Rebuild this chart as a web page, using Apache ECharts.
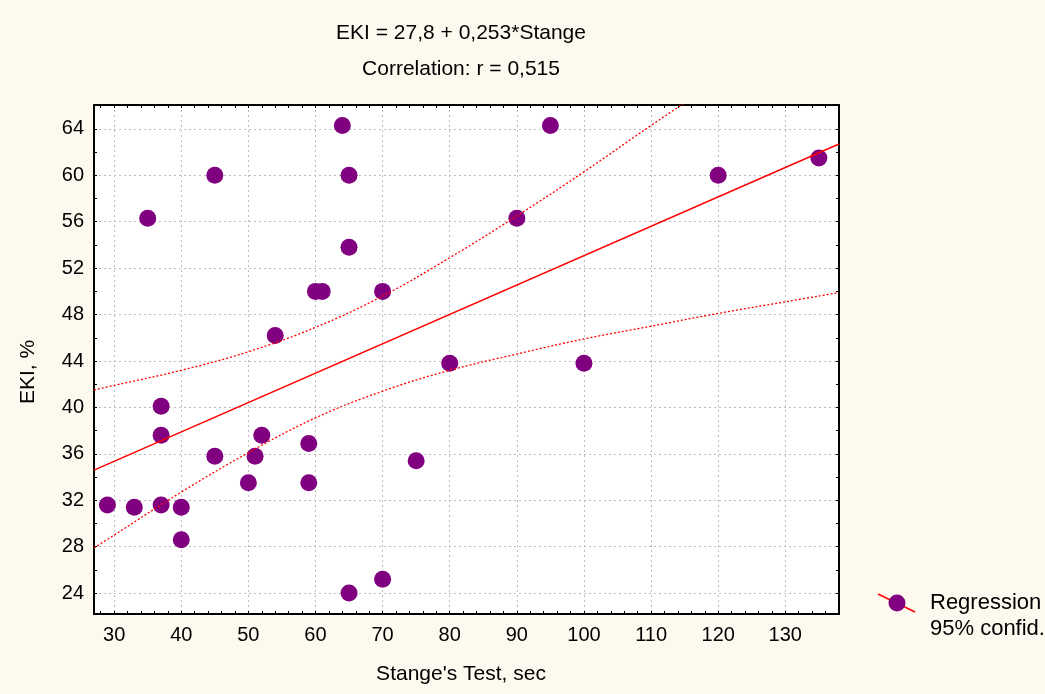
<!DOCTYPE html>
<html>
<head>
<meta charset="utf-8">
<script src="https://cdn.jsdelivr.net/npm/echarts@6/dist/echarts.min.js"></script>
<style>
html, body { margin: 0; padding: 0; background: #fef9ee; }
#chart { width: 1045px; height: 694px; }
</style>
</head>
<body>
<div id="chart"></div>
<script>
// observations: Stange's test (sec) vs EKI (%)
var stange = [29, 33, 35, 37, 37, 37, 40, 40, 45, 45, 50, 51, 52, 54, 59, 59, 60, 61, 64, 65, 65, 65, 70, 70, 75, 80, 90, 95, 100, 120, 135];
var eki = [31.6, 31.4, 56.3, 40.1, 37.6, 31.6, 31.4, 28.6, 60, 35.8, 33.5, 35.8, 37.6, 46.2, 36.9, 33.5, 50, 50, 64.3, 60, 53.8, 24, 50, 25.2, 35.4, 43.8, 56.3, 64.3, 43.8, 60, 61.5];

// regression line ends
var fitX = [27, 138];
var fitY = [34.6, 62.7];

// 95% confidence band
var bandX = [27, 30, 40, 50, 60, 70, 80, 90, 100, 110, 120, 130, 138];
var bandUpper = [41.5, 41.9, 43.2, 44.8, 46.9, 49.6, 52.9, 56.5, 60.3, 64.3, 68.2, 72.3, 75.5];
var bandLower = [27.9, 29.0, 32.7, 36.1, 39.1, 41.4, 43.2, 44.6, 45.9, 47.0, 48.1, 49.1, 49.9];

var xTickLabels = [30, 40, 50, 60, 70, 80, 90, 100, 110, 120, 130];
var yTickLabels = [24, 28, 32, 36, 40, 44, 48, 52, 56, 60, 64];

var xMin = 27, xMax = 138;
var yMin = 22.2, yMax = 66.06;

var xMinor = [];
for (var i = 28; i <= 136; i += 2) xMinor.push(i);
var yMinor = [];
for (var j = 24; j <= 66; j += 2) yMinor.push(j);

var font = "'Liberation Sans', Arial, sans-serif";

function pairs(xs, ys) {
    return xs.map(function (x, k) { return [x, ys[k]]; });
}

function tickAxis(pos, dim, minor, labels) {
    var isX = dim == "x";
    return {
        type: "value",
        position: pos,
        min: isX ? xMin : yMin,
        max: isX ? xMax : yMax,
        axisLine: { show: true, onZero: false, lineStyle: { color: "#000", width: 2 } },
        axisTick: { show: true, inside: true, length: 3, customValues: minor, lineStyle: { color: "#000", width: 1 } },
        axisLabel: labels ? {
            show: true,
            customValues: labels,
            margin: isX ? 11 : 10,
            color: "#000",
            fontSize: 20,
            fontFamily: font
        } : { show: false },
        splitLine: { show: false }
    };
}

function gridAxis(pos, dim, majors) {
    var isX = dim == "x";
    return {
        type: "value",
        position: pos,
        min: isX ? xMin : yMin,
        max: isX ? xMax : yMax,
        axisLine: { show: false },
        axisTick: { show: false, customValues: majors },
        axisLabel: { show: false },
        splitLine: { show: true, lineStyle: { color: "#bdbdbd", width: 1, type: [2, 3] } }
    };
}

var xBottom = tickAxis("bottom", "x", xMinor, xTickLabels);
xBottom.name = "Stange's Test, sec";
xBottom.nameLocation = "middle";
xBottom.nameGap = 50;
xBottom.nameTextStyle = { color: "#000", fontSize: 21, fontFamily: font, padding: [0, 11, 0, 0] };

var yLeft = tickAxis("left", "y", yMinor, yTickLabels);
yLeft.name = "EKI, %";
yLeft.nameLocation = "middle";
yLeft.nameGap = 55;
yLeft.nameTextStyle = { color: "#000", fontSize: 21, fontFamily: font, padding: [0, 25, 0, 0] };

var chart = echarts.init(document.getElementById("chart"));

var option = {
    backgroundColor: "#fef9ee",
    animation: false,
    textStyle: { fontFamily: font },
    title: [{
        text: "EKI = 27,8 + 0,253*Stange",
        left: 456,
        top: 18,
        textAlign: "center",
        textStyle: { color: "#000", fontSize: 21, fontWeight: "normal", fontFamily: font }
    }, {
        text: "Correlation: r = 0,515",
        left: 456,
        top: 54,
        textAlign: "center",
        textStyle: { color: "#000", fontSize: 21, fontWeight: "normal", fontFamily: font }
    }],
    grid: {
        left: 94,
        right: 206,
        top: 105,
        bottom: 80,
        show: true,
        backgroundColor: "#ffffff",
        borderWidth: 0
    },
    xAxis: [xBottom, tickAxis("top", "x", xMinor, null), gridAxis("top", "x", xTickLabels)],
    yAxis: [yLeft, tickAxis("right", "y", yMinor, null), gridAxis("right", "y", yTickLabels)],
    series: [{
        name: "data",
        type: "scatter",
        xAxisIndex: 0,
        yAxisIndex: 0,
        symbolSize: 17,
        itemStyle: { color: "#800080", opacity: 1 },
        z: 2,
        data: pairs(stange, eki)
    }, {
        name: "Regression",
        type: "line",
        xAxisIndex: 0,
        yAxisIndex: 0,
        showSymbol: false,
        symbol: "none",
        lineStyle: { color: "#ff0000", width: 1.5 },
        z: 3,
        data: pairs(fitX, fitY)
    }, {
        name: "upper",
        type: "line",
        xAxisIndex: 0,
        yAxisIndex: 0,
        smooth: 0.4,
        symbol: "none",
        clip: true,
        lineStyle: { color: "#ff0000", width: 1.3, type: [2, 2] },
        z: 3,
        data: pairs(bandX, bandUpper)
    }, {
        name: "lower",
        type: "line",
        xAxisIndex: 0,
        yAxisIndex: 0,
        smooth: 0.4,
        symbol: "none",
        clip: true,
        lineStyle: { color: "#ff0000", width: 1.3, type: [2, 2] },
        z: 3,
        data: pairs(bandX, bandLower)
    }],
    graphic: [{
        type: "line",
        shape: { x1: 878, y1: 594, x2: 915, y2: 612 },
        style: { stroke: "#ff0000", lineWidth: 1.5 }
    }, {
        type: "circle",
        shape: { cx: 897, cy: 603, r: 8.5 },
        style: { fill: "#800080" }
    }, {
        type: "text",
        left: 930,
        top: 592,
        style: { text: "Regression", fill: "#000", font: "22px " + font }
    }, {
        type: "text",
        left: 930,
        top: 618,
        style: { text: "95% confid.", fill: "#000", font: "22px " + font }
    }]
};

chart.setOption(option);
</script>
</body>
</html>
